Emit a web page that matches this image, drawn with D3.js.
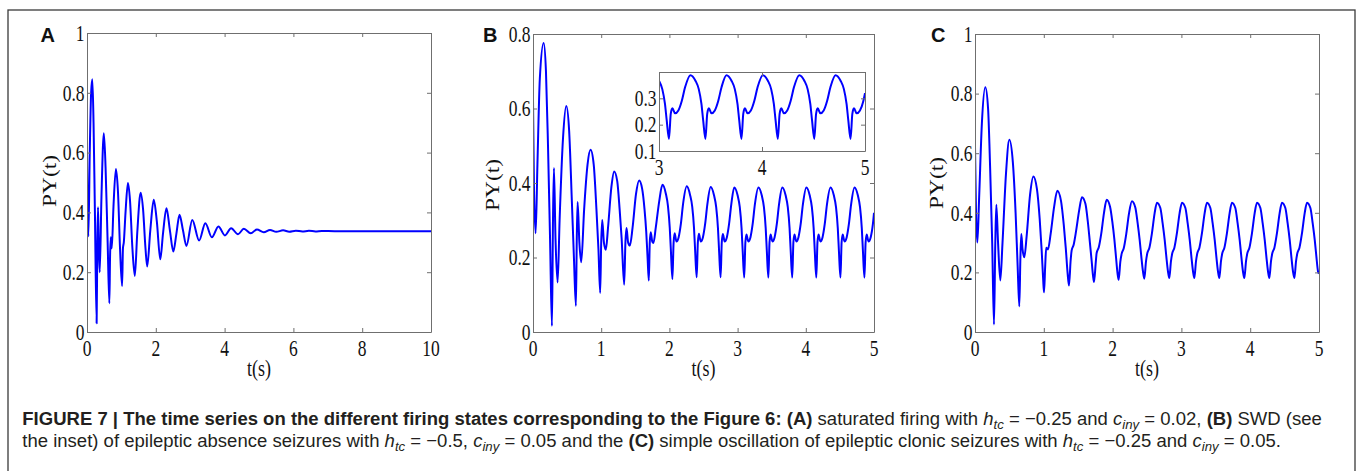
<!DOCTYPE html>
<html><head><meta charset="utf-8">
<script src="https://cdn.jsdelivr.net/npm/d3@7"></script>
<style>
html,body{margin:0;padding:0;background:#fff;}
svg{display:block;}
text{white-space:pre;}
</style></head><body>
<svg id="fig" width="1360" height="471"></svg>
<script>
// ---------------- DATA ----------------
const seriesA = [
 [0,0.6],[0.015,0.4],[0.04,0.32],[0.08,0.6],[0.12,0.8],[0.155,0.845],[0.19,0.7],[0.23,0.4],[0.28,0.029],
 [0.3,0.3],[0.32,0.417],[0.345,0.28],[0.37,0.2],[0.42,0.45],[0.49,0.665],[0.54,0.55],[0.6,0.3],[0.65,0.096],
 [0.67,0.25],[0.69,0.317],[0.705,0.29],[0.72,0.28],[0.77,0.42],[0.84,0.545],[0.9,0.47],[0.96,0.28],[1.02,0.154],
 [1.045,0.28],[1.07,0.3],[1.12,0.4],[1.19,0.498],[1.25,0.44],[1.32,0.28],[1.39,0.1875],[1.46,0.33],[1.56,0.466],
 [1.63,0.41],[1.7,0.28],[1.75,0.219],[1.84,0.34],[1.94,0.442],[2.03,0.37],[2.13,0.243],[2.21,0.33],[2.31,0.414],
 [2.41,0.34],[2.51,0.269],[2.6,0.33],[2.69,0.392],[2.79,0.34],[2.89,0.288],[3.06,0.375],[3.26,0.306],[3.44,0.364],
 [3.63,0.317],[3.82,0.353],[4.01,0.323],[4.19,0.347],[4.39,0.327],[4.56,0.345],[4.76,0.33],[4.94,0.343],
 [5.14,0.334],[5.32,0.3415],[5.5,0.335],[5.7,0.34],[5.88,0.3355],[6.07,0.339],[6.26,0.336],[6.45,0.3385],
 [6.64,0.3365],[6.83,0.338],[7.2,0.337],[8,0.337],[10,0.337]
];
const seriesB = [
 [0,0.623],[0.015,0.38],[0.039,0.265],[0.065,0.45],[0.1,0.68],[0.156,0.776],[0.19,0.7],[0.22,0.5],[0.25,0.25],
 [0.278,0.016],[0.293,0.3],[0.307,0.44],[0.33,0.25],[0.361,0.133],[0.39,0.3],[0.44,0.52],[0.488,0.607],[0.53,0.54],
 [0.57,0.35],[0.6,0.2],[0.629,0.07],[0.642,0.25],[0.654,0.349],[0.68,0.24],[0.707,0.187],[0.75,0.33],[0.8,0.45],
 [0.844,0.489],[0.89,0.45],[0.93,0.33],[0.96,0.22],[0.985,0.105],[1.0,0.24],[1.015,0.301],[1.04,0.24],[1.068,0.221],
 [1.1,0.28],[1.15,0.39],[1.19,0.431],[1.235,0.405],[1.27,0.33],[1.3,0.25],[1.337,0.127],[1.355,0.24],[1.371,0.279],
 [1.395,0.24],[1.42,0.232],[1.46,0.28],[1.51,0.37],[1.556,0.407],[1.6,0.385],[1.635,0.33],[1.66,0.27],[1.68,0.2],
 [1.698,0.138],[1.712,0.24],[1.726,0.268],[1.75,0.242],[1.766,0.239],[1.8,0.28],[1.85,0.35],[1.898,0.395],
 [1.947,0.372],[1.979,0.338],[2.005,0.28],[2.022,0.218],[2.044,0.142],[2.061,0.238],[2.077,0.265],[2.103,0.243],
 [2.135,0.254],[2.168,0.29],[2.2,0.343],[2.254,0.391],
 [2.303,0.368],[2.335,0.336],[2.361,0.279],[2.378,0.216],[2.4,0.147],[2.417,0.24],[2.433,0.264],[2.459,0.243],
 [2.491,0.254],[2.524,0.29],[2.556,0.342],[2.605,0.389],
 [2.654,0.367],[2.686,0.335],[2.712,0.279],[2.729,0.216],[2.751,0.147],[2.768,0.241],[2.784,0.263],[2.81,0.243],
 [2.842,0.254],[2.875,0.29],[2.907,0.342],[2.951,0.388],
 [3.0,0.367],[3.032,0.335],[3.058,0.279],[3.075,0.216],[3.097,0.146],[3.114,0.241],[3.13,0.262],[3.156,0.243],
 [3.188,0.254],[3.221,0.29],[3.253,0.342],[3.305,0.388],
 [3.354,0.367],[3.386,0.335],[3.412,0.279],[3.429,0.216],[3.451,0.146],[3.468,0.241],[3.484,0.262],[3.51,0.243],
 [3.542,0.254],[3.575,0.29],[3.607,0.342],[3.655,0.388],
 [3.704,0.367],[3.736,0.335],[3.762,0.279],[3.779,0.216],[3.801,0.146],[3.818,0.241],[3.834,0.262],[3.86,0.243],
 [3.892,0.254],[3.925,0.29],[3.957,0.342],[4.008,0.388],
 [4.057,0.367],[4.089,0.335],[4.115,0.279],[4.132,0.216],[4.154,0.146],[4.171,0.241],[4.187,0.262],[4.213,0.243],
 [4.245,0.254],[4.278,0.29],[4.31,0.342],[4.362,0.388],
 [4.411,0.367],[4.443,0.335],[4.469,0.279],[4.486,0.216],[4.508,0.146],[4.525,0.241],[4.541,0.262],[4.567,0.243],
 [4.599,0.254],[4.632,0.29],[4.664,0.342],[4.714,0.388],
 [4.763,0.367],[4.795,0.335],[4.821,0.279],[4.838,0.216],[4.86,0.146],[4.877,0.241],[4.893,0.262],[4.919,0.243],
 [4.951,0.254],[4.984,0.29],[5.0,0.32]
];
const seriesC = [
 [0,0.622],[0.015,0.4],[0.034,0.3],[0.06,0.45],[0.1,0.7],[0.15,0.821],[0.19,0.75],[0.22,0.55],[0.25,0.3],
 [0.276,0.025],[0.295,0.3],[0.31,0.427],[0.335,0.3],[0.368,0.173],[0.4,0.3],[0.45,0.53],[0.499,0.645],
 [0.55,0.57],[0.59,0.4],[0.62,0.22],[0.644,0.086],[0.66,0.25],[0.673,0.329],[0.69,0.28],[0.717,0.251],
 [0.75,0.32],[0.8,0.46],[0.848,0.522],[0.9,0.48],[0.94,0.38],[0.97,0.27],[0.99,0.18],[1.003,0.133],
 [1.02,0.22],[1.035,0.283],[1.06,0.277],[1.1,0.33],[1.15,0.42],[1.197,0.474],[1.25,0.44],[1.29,0.36],
 [1.32,0.28],[1.345,0.2],[1.366,0.156],[1.39,0.24],[1.405,0.274],[1.434,0.293],[1.47,0.34],[1.515,0.41],
 [1.555,0.4525],[1.605,0.43],[1.64,0.37],[1.67,0.3],[1.695,0.24],[1.715,0.19],[1.73,0.168],[1.754,0.23],
 [1.768,0.265],[1.8,0.285],[1.835,0.33],[1.875,0.4],[1.914,0.4436],[1.963,0.42],[1.996,0.37],[2.026,0.31],
 [2.05,0.25],[2.07,0.2],[2.088,0.175],[2.112,0.235],[2.132,0.263],[2.161,0.28],[2.199,0.33],[2.238,0.397],
 [2.281,0.439],[2.33,0.418],[2.363,0.367],[2.393,0.31],[2.417,0.254],[2.441,0.204],
 [2.461,0.179],[2.485,0.236],[2.505,0.265],[2.534,0.282],[2.572,0.332],[2.611,0.399],[2.645,0.434],
 [2.694,0.416],[2.727,0.365],[2.757,0.309],[2.781,0.253],[2.805,0.203],
 [2.824,0.181],[2.848,0.237],[2.868,0.265],[2.897,0.282],[2.935,0.332],[2.974,0.399],[3.009,0.434],
 [3.058,0.416],[3.091,0.365],[3.121,0.309],[3.145,0.253],[3.169,0.203],
 [3.188,0.181],[3.212,0.237],[3.232,0.265],[3.261,0.282],[3.299,0.332],[3.338,0.399],[3.372,0.434],
 [3.421,0.416],[3.454,0.365],[3.484,0.309],[3.508,0.253],[3.532,0.203],
 [3.551,0.181],[3.575,0.237],[3.595,0.265],[3.624,0.282],[3.662,0.332],[3.701,0.399],[3.735,0.434],
 [3.784,0.416],[3.817,0.365],[3.847,0.309],[3.871,0.253],[3.895,0.203],
 [3.915,0.181],[3.939,0.237],[3.959,0.265],[3.988,0.282],[4.026,0.332],[4.065,0.399],[4.099,0.434],
 [4.148,0.416],[4.181,0.365],[4.211,0.309],[4.235,0.253],[4.259,0.203],
 [4.278,0.181],[4.302,0.237],[4.322,0.265],[4.351,0.282],[4.389,0.332],[4.428,0.399],[4.462,0.434],
 [4.511,0.416],[4.544,0.365],[4.574,0.309],[4.598,0.253],[4.622,0.203],
 [4.642,0.181],[4.666,0.237],[4.686,0.265],[4.715,0.282],[4.753,0.332],[4.792,0.399],[4.826,0.434],
 [4.875,0.416],[4.908,0.365],[4.938,0.309],[4.962,0.253],[4.986,0.203],[5.0,0.196]
];
const xTicksA = [0,2,4,6,8,10];
const yTicksA = [0,0.2,0.4,0.6,0.8,1];
const xTicksBC = [0,1,2,3,4,5];
const yTicksB = [0,0.2,0.4,0.6,0.8];
const yTicksC = [0,0.2,0.4,0.6,0.8,1];
const xTicksInset = [3,4,5];
const yTicksInset = [0.1,0.2,0.3];
const panelLetters = ["A","B","C"];
const yLabelText = "PY(t)";
const xLabelText = "t(s)";
const captionLine1 = [
 ["FIGURE 7 | The time series on the different firing states corresponding to the Figure 6: (A)","b"],
 [" saturated firing with ","n"],["h","i"],["tc","s"],[" = \u22120.25 and ","n"],["c","i"],["iny","s"],
 [" = 0.02, ","n"],["(B)","b"],[" SWD (see","n"]
];
const captionLine2 = [
 ["the inset) of epileptic absence seizures with ","n"],["h","i"],["tc","s"],[" = \u22120.5, ","n"],
 ["c","i"],["iny","s"],[" = 0.05 and the ","n"],["(C)","b"],
 [" simple oscillation of epileptic clonic seizures with ","n"],["h","i"],["tc","s"],[" = \u22120.25 and ","n"],
 ["c","i"],["iny","s"],[" = 0.05.","n"]
];

// ---------------- DRAWING ----------------
const svg = d3.select("#fig");
svg.append("rect").attr("width",1360).attr("height",471).attr("fill","#fff");
svg.append("rect").attr("x",8).attr("y",10).attr("width",1347).attr("height",520)
  .attr("fill","none").attr("stroke","#3a3a3a").attr("stroke-width",1.3);

const SERIF = "'Liberation Serif','Times New Roman',serif";
const SANS = "'Liberation Sans',Arial,Helvetica,sans-serif";
const AXIS_COL = "#6f6f6f";
const STRETCH = 1.3;
let clipId = 0;

function vText(g, x, y, str, anchor, fs){
  return g.append("text")
    .attr("transform",`translate(${x},${y}) scale(1,${STRETCH})`)
    .attr("text-anchor",anchor).attr("dy","0.34em")
    .attr("font-family",SERIF).attr("font-size",fs).attr("fill","#111").text(str);
}

function panel(cfg){
  const x = d3.scaleLinear().domain(cfg.xd).range([cfg.l, cfg.r]);
  const y = d3.scaleLinear().domain(cfg.yd).range([cfg.b, cfg.t]);
  const g = svg.append("g");
  if (cfg.fill) g.append("rect").attr("x",cfg.l).attr("y",cfg.t).attr("width",cfg.r-cfg.l)
      .attr("height",cfg.b-cfg.t).attr("fill","#fff");
  const id = "clip"+(clipId++);
  g.append("clipPath").attr("id",id).append("rect")
    .attr("x",cfg.l).attr("y",cfg.t-1).attr("width",cfg.r-cfg.l).attr("height",cfg.b-cfg.t+2);
  const line = d3.line().x(d=>x(d[0])).y(d=>y(d[1])).curve(d3.curveMonotoneX);
  g.append("path").datum(cfg.data.filter(d=>d[0]>=cfg.xd[0]-0.4))
    .attr("clip-path",`url(#${id})`)
    .attr("d",line).attr("fill","none").attr("stroke","#0000ff").attr("stroke-width",2)
    .attr("stroke-linejoin","round");
  // ticks inside on all four sides
  const tk = 4;
  const mk = (axis, tr) => g.append("g").attr("transform",tr)
      .call(axis.tickSize(-tk).tickSizeOuter(0).tickFormat(""))
      .call(s=>{ s.select(".domain").attr("stroke",AXIS_COL);
                 s.selectAll(".tick line").attr("stroke",AXIS_COL); });
  mk(d3.axisBottom(x).tickValues(cfg.xt), `translate(0,${cfg.b})`);
  mk(d3.axisTop(x).tickValues(cfg.xt), `translate(0,${cfg.t})`);
  mk(d3.axisLeft(y).tickValues(cfg.yt), `translate(${cfg.l},0)`);
  mk(d3.axisRight(y).tickValues(cfg.yt), `translate(${cfg.r},0)`);
  // tick labels
  cfg.xt.forEach(v=>vText(g, x(v), cfg.b+16, String(v), "middle", cfg.fs));
  cfg.yt.forEach(v=>vText(g, cfg.l-2.5, y(v), String(v), "end", cfg.fs));
  if (cfg.labels){
    g.append("text").attr("transform",`translate(${(cfg.l+cfg.r)/2},369) scale(1,${STRETCH})`)
      .attr("text-anchor","middle").attr("dy","0.3em").attr("font-family",SERIF)
      .attr("font-size",18).attr("fill","#111").text(xLabelText);
    g.append("text").attr("transform",`translate(${cfg.ylx},${cfg.yly}) rotate(-90) scale(${STRETCH},1)`)
      .attr("text-anchor","middle").attr("dy","0.32em").attr("font-family",SERIF)
      .attr("font-size",18).attr("fill","#111").text(yLabelText);
    g.append("text").attr("x",cfg.lx).attr("y",41.7).attr("font-family",SANS).attr("font-weight","bold")
      .attr("font-size",20).attr("fill","#111").text(cfg.letter);
  }
  return g;
}

panel({data:seriesA, xd:[0,10], yd:[0,1], l:87, r:431, t:33, b:332, xt:xTicksA, yt:yTicksA, fs:17.5,
       labels:true, ylx:50, yly:181, lx:40.5, letter:panelLetters[0]});
panel({data:seriesB, xd:[0,5], yd:[0,0.8], l:533, r:874, t:34, b:332, xt:xTicksBC, yt:yTicksB, fs:17.5,
       labels:true, ylx:493, yly:185, lx:483, letter:panelLetters[1]});
panel({data:seriesC, xd:[0,5], yd:[0,1], l:975, r:1319, t:34, b:332, xt:xTicksBC, yt:yTicksC, fs:17.5,
       labels:true, ylx:937, yly:183, lx:931, letter:panelLetters[2]});
// inset of B
panel({data:seriesB, xd:[3,5], yd:[0.1,0.4], l:659, r:865, t:72, b:151, xt:xTicksInset, yt:yTicksInset, fs:17.5,
       labels:false, fill:true});

// caption
function captionLine(segs, yb){
  const t = svg.append("text").attr("x",0).attr("y",yb).attr("font-family",SANS)
    .attr("font-size",14).attr("fill","#231f20");
  let inSub = false;
  segs.forEach(([s,st])=>{
    const ts = t.append("tspan").text(s);
    if (st==="b") ts.attr("font-weight","bold");
    if (st==="i"||st==="s") ts.attr("font-style","italic");
    if (st==="s"){ ts.attr("font-size",10).attr("dy",4); inSub=true; }
    else if (inSub){ ts.attr("dy",-4); inSub=false; }
  });
  return t;
}
const c1 = captionLine(captionLine1, 424.5);
const c2 = captionLine(captionLine2, 447);
const w1 = c1.node().getComputedTextLength();
const k = (1323-22.3)/w1;
const fs = 14*k;
[c1,c2].forEach(c=>{
  c.attr("font-size",fs).attr("x",22.3);
  c.selectAll("tspan").filter(function(){return d3.select(this).attr("font-size")==="10";})
    .attr("font-size",10*k);
});
</script>
</body></html>
